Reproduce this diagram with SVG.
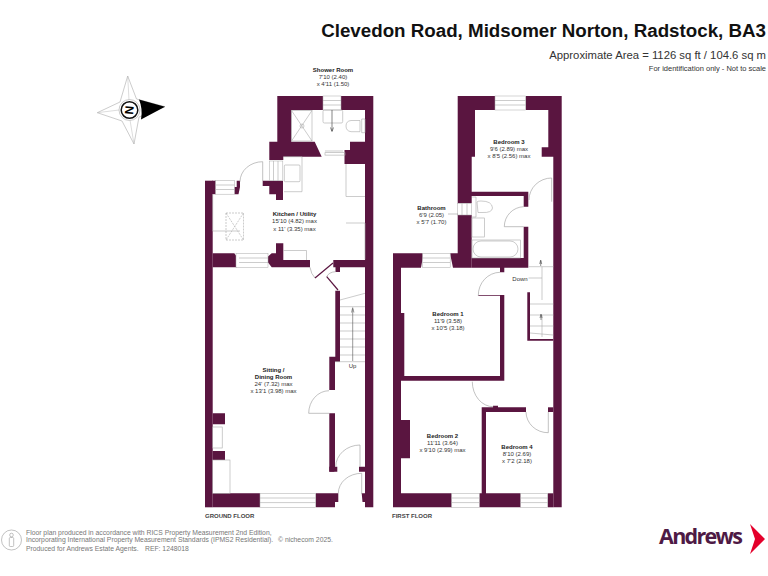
<svg xmlns="http://www.w3.org/2000/svg" width="768" height="576" viewBox="0 0 768 576">
<style>
text{font-family:"Liberation Sans",Arial,sans-serif;fill:#333}
.lbl{font-size:6px;text-anchor:middle}
.b{font-weight:bold;fill:#222}
.w{fill:#5a1540;stroke:none}
.win{fill:#fff;stroke:#aaa;stroke-width:.5}
.thin{fill:none;stroke:#aaa;stroke-width:.6}
.arc{fill:none;stroke:#999;stroke-width:.6}
.leaf{fill:none;stroke:#5a1540;stroke-width:1.2}
.foot{font-size:6.8px;fill:#777}
</style>
<rect width="768" height="576" fill="#fff"/>

<g id="title">
<text x="766" y="37" font-size="18.75" font-weight="bold" text-anchor="end" style="fill:#111">Clevedon Road, Midsomer Norton, Radstock, BA3</text>
<text x="766" y="59" font-size="11.3" text-anchor="end">Approximate Area = 1126 sq ft / 104.6 sq m</text>
<text x="766" y="71" font-size="7.5" text-anchor="end">For identification only - Not to scale</text>
</g>

<g id="compass">
<path d="M127.7 76L136.5 99L165 106.7L139 117L134 144L122 121L97.3 112.7L120 102Z" fill="#fff" stroke="#aaa" stroke-width=".6"/>
<path d="M127.7 76L129 100M134 144L130 120M97.3 112.7L119 110" fill="none" stroke="#bbb" stroke-width=".5"/>
<path d="M139 99.5L165 106.7L141 119.5Q143 109 139 99.5Z" fill="#000"/>
<circle cx="129.5" cy="110" r="10.5" fill="#fff" stroke="#aaa" stroke-width=".6"/>
<circle cx="129.5" cy="110" r="8.3" fill="#fff" stroke="#111" stroke-width="1.5"/>
<text x="129.5" y="110" font-size="12" font-weight="bold" text-anchor="middle" dominant-baseline="central" transform="rotate(-85 129.5 110)" style="fill:#000">N</text>
</g>

<g id="ground-floor">
<g id="ground-walls" class="w">
<path d="M277.3 96H323V110H291.3V141.7H314.7L321.7 156.7H283.3V160H269.3V141.7H277.3Z"/>
<path d="M341 96H373.3V507.3H365V110H341Z"/>
<path d="M350 141.7H365V164H344.5V150H350Z"/>
<rect x="205" y="180.7" width="7.7" height="326.6"/>
<rect x="212" y="180.7" width="3.7" height="13.5"/>
<path d="M234.3 194.2V187H236.7V180.7H240V187L238.5 194.2Z"/>
<path d="M262.7 180.7H283V200H276V194.3H269.3V186H262.7Z"/>
<path d="M212.7 253.3H234.3L239.3 260L237 267.3H212.7Z"/>
<path d="M267.7 256.7L271.7 253.3H276V243.3H283.3V260H310V267.3H271.7L267.7 262Z"/>
<path d="M333.3 260H365V267.3H340V272H335.5V267.3H333.3Z"/>
<path d="M335.3 290.7H340V361.7H335V390H329.3V356.7H335.3Z"/>
<path d="M329.3 413.3H335V466.7H337.3V471.7H329.3Z"/>
<rect x="329.3" y="466.7" width="5" height="5"/>
<path d="M315.7 493.3H338.3V502H335V507.3H315.7Z"/>
<path d="M212.7 413.3H225V424.3H212.7ZM212.7 451H225V460H212.7ZM212.7 493.3H260V507.3H212.7Z"/>
<path d="M359 466.7H365V471.7H359ZM361.7 493.3H365V502H362.5Z"/>
</g>
<g id="ground-fixtures">
<rect x="323" y="96" width="18" height="14" class="win"/><path class="thin" d="M323 100.5H341M323 105H341"/>
<rect x="269.3" y="161" width="13.5" height="19.7" class="win"/><path class="thin" d="M273.5 161V180.7M278 161V180.7"/>
<rect x="215.7" y="180.7" width="18.7" height="13.5" class="win"/><path class="thin" d="M215.7 185H234.4M215.7 189.5H234.4"/>
<rect x="236" y="253.3" width="32" height="14" class="win"/><path class="thin" d="M239 258H268M239 262.5H268"/>
<rect x="260" y="493.3" width="55.7" height="14" class="win"/><path class="thin" d="M260 498H315.7M260 502.6H315.7"/>
<path class="thin" d="M212.7 231H240M283.3 156.7H302V191.7H284M346 164V196.5H365M346 223H365V259.5M283.3 250.5H306.5V260M212.7 194V231"/>
<rect x="291.5" y="110.5" width="20.5" height="30.5" class="thin"/>
<path class="thin" d="M291.5 110.5L312 141M312 110.5L291.5 141"/>
<circle cx="302" cy="126" r="2" class="thin"/>
<rect x="323" y="110" width="19.7" height="13" rx="1.5" class="thin"/>
<path class="thin" d="M346 126Q346 121 351 120.5H360V131.7H351Q346 131 346 126ZM361.7 119H365V132.7H361.7Z"/>
<path d="M332 110V131M330.5 127.5L332 131.5L333.5 127.5" fill="none" stroke="#333" stroke-width=".6"/>
<rect x="325" y="152.7" width="20" height="2.4" class="thin"/>
<path class="thin" d="M325 151H343"/>
<rect x="284.3" y="165" width="15.7" height="16.7" rx="1" class="thin"/>
<path class="thin" d="M226 213H243.5V240H226ZM226 213L243.5 240M243.5 213L226 240" stroke-dasharray="2 1"/>
<rect x="212.7" y="427" width="9.5" height="21" class="thin"/>
<rect x="212.7" y="460" width="17.3" height="33.3" class="thin"/>
<path class="thin" d="M340 300L365 293.3M340 306.7H365M340 315H365M340 323H365M340 331H365M340 339H365M340 347H365M340 355H365M335 361.7H365"/>
<path d="M352.7 361V309M351.5 312.5L352.7 307.7L353.9 312.5" fill="none" stroke="#555" stroke-width=".6"/>
</g>
<g id="ground-doors">
<path class="arc" d="M262.7 161.7A22.7 20 0 0 0 240 181.7M262.7 161.7V181"/>
<path class="arc" d="M310 267.3Q311 274 315 278"/>
<path class="leaf" d="M315 278L333 263"/>
<path class="arc" d="M326.7 276.7Q329 272 335.7 271.7"/>
<path class="leaf" d="M326.7 276.7L338 290"/>
<path class="arc" d="M329 390.7A20.5 22.6 0 0 0 308.7 413.3H329.3"/>
<path class="arc" d="M360 445A24.5 22 0 0 0 335.7 466.7M360 445V467"/>
<path class="arc" d="M361.7 473.3A23.4 20 0 0 0 338.3 493.3M361.7 473.3V494"/>
</g>
</g>

<g id="first-floor">
<g id="first-walls" class="w">
<path d="M457.7 96H495V110H475V156.7H471.7V191.7H528.3V206.7H523.7V196H471.7V203.3H457.7Z"/>
<path d="M525.7 96H561.7V507.3H553.3V156.7H541.7V147.3H548.3V110H525.7Z"/>
<path d="M457.7 215H471.7V267.7H453L450 253.3H457.7Z"/>
<path d="M471.7 258H523.7V226.7H528.3V267.7H504.3V272.3H500V267.7H471.7Z"/>
<path d="M393 253.3H422.7V258L421 267.7H401V313H404.3V376H500V295.7H478.3V295H504.3V380.7H401V420H410V458.3H401V493.3H451.7V507.3H393Z"/>
<path d="M481.7 407.3H493V405.7H498V407.3H526V412H486V493.3H520.7V507.3H479.3V493.3H481.7Z"/>
<path d="M547.7 493.3H553.3V507.3H547.7Z"/>
<path d="M548 407.3H553.3V412H548Z"/>
<path d="M527.3 292.3H530V339H553.3V340.7H527.3Z"/>
</g>
<g id="first-fixtures">
<rect x="495" y="96" width="30.7" height="14" class="win"/><path class="thin" d="M495 100.5H525.7M495 105H525.7"/>
<rect x="457.7" y="203.3" width="14" height="11.7" class="win"/><path class="thin" d="M462 203.3V215M467 203.3V215"/>
<rect x="422.7" y="253.3" width="27.5" height="14.4" class="win"/><path class="thin" d="M422.7 258H450M422.7 262.5H450"/>
<rect x="451.7" y="493.3" width="27.6" height="14" class="win"/><path class="thin" d="M451.7 498H479.3M451.7 502.6H479.3"/>
<rect x="520.7" y="493.3" width="27" height="14" class="win"/><path class="thin" d="M520.7 498H547.7M520.7 502.6H547.7"/>
<path class="thin" d="M477 202Q477 201 481 201Q492 201 492.5 208Q492 213 482 212.5H478ZM472 197H476V217H472"/>
<rect x="472" y="218" width="12.5" height="19" class="thin"/>
<rect x="472" y="240" width="48.5" height="18" class="thin"/>
<rect x="473" y="241" width="45" height="16" rx="8" class="thin"/>
<path class="thin" d="M528.5 266.7H553.3M528.5 278H542M542 266.7V300M530 304H553.3M530 315H553.3M530 326H553.3M530 333L553.3 335M542 315V337"/>
<path d="M540.7 266V261M539.7 264L540.7 260L541.7 264M541 320V315M540 318L541 314L542 318" fill="none" stroke="#444" stroke-width=".6"/>
</g>
<g id="first-doors">
<path class="arc" d="M551.7 178A22.7 22 0 0 0 529 200M551.7 178V201.7"/>
<path class="arc" d="M523.7 206.7A20 20 0 0 0 504.3 226.7H523.7"/>
<path class="arc" d="M500 272.3A22 23 0 0 0 478.3 295.7"/>
<path class="arc" d="M472.3 381.7A21 25 0 0 0 493.3 406.7"/>
<path class="arc" d="M526 412A22 21 0 0 0 548.3 432.7V412"/>
</g>
</g>

<g id="labels">
<text class="lbl b" x="333" y="72">Shower Room</text>
<text class="lbl" x="333" y="79">7'10 (2.40)</text>
<text class="lbl" x="333" y="86">x 4'11 (1.50)</text>
<text class="lbl b" x="294.5" y="216">Kitchen / Utility</text>
<text class="lbl" x="294.5" y="223">15'10 (4.82) max</text>
<text class="lbl" x="294.5" y="230.5">x 11' (3.35) max</text>
<text class="lbl b" x="273.5" y="371.5">Sitting /</text>
<text class="lbl b" x="273.5" y="379">Dining Room</text>
<text class="lbl" x="273.5" y="386">24' (7.32) max</text>
<text class="lbl" x="273.5" y="393">x 13'1 (3.98) max</text>
<text class="lbl" x="352.5" y="368">Up</text>
<text x="205" y="518" font-size="6" font-weight="bold" style="fill:#444">GROUND FLOOR</text>
<text class="lbl b" x="509" y="144">Bedroom 3</text>
<text class="lbl" x="509" y="151">9'6 (2.89) max</text>
<text class="lbl" x="509" y="158">x 8'5 (2.56) max</text>
<text class="lbl b" x="431.5" y="210">Bathroom</text>
<text class="lbl" x="431.5" y="217">6'9 (2.05)</text>
<text class="lbl" x="431.5" y="224">x 5'7 (1.70)</text>
<path d="M448 214H458" stroke="#888" stroke-width=".5" fill="none"/>
<text class="lbl" x="520" y="281">Down</text>
<text class="lbl b" x="448" y="315.5">Bedroom 1</text>
<text class="lbl" x="448" y="322.5">11'9 (3.58)</text>
<text class="lbl" x="448" y="330">x 10'5 (3.18)</text>
<text class="lbl b" x="442.5" y="437.5">Bedroom 2</text>
<text class="lbl" x="442.5" y="444.5">11'11 (3.64)</text>
<text class="lbl" x="442.5" y="451.5">x 9'10 (2.99) max</text>
<text class="lbl b" x="517" y="449">Bedroom 4</text>
<text class="lbl" x="517" y="456">8'10 (2.69)</text>
<text class="lbl" x="517" y="463">x 7'2 (2.18)</text>
<text x="392" y="518" font-size="6" font-weight="bold" style="fill:#444">FIRST FLOOR</text>
</g>

<g id="footer">
<circle cx="11.5" cy="540" r="10" fill="none" stroke="#999" stroke-width=".6"/>
<circle cx="11.5" cy="535" r="1.8" fill="none" stroke="#999" stroke-width=".6"/>
<rect x="9.3" y="537.5" width="4.4" height="9" rx="1" fill="none" stroke="#999" stroke-width=".6"/>
<text class="foot" x="26" y="534.5">Floor plan produced in accordance with RICS Property Measurement 2nd Edition,</text>
<text class="foot" x="26" y="542.3">Incorporating International Property Measurement Standards (IPMS2 Residential).</text>
<text class="foot" x="278" y="542.3">© nichecom 2025.</text>
<text class="foot" x="26" y="551">Produced for Andrews Estate Agents.</text>
<text class="foot" x="145" y="551">REF: 1248018</text>
</g>

<g id="logo">
<text x="659" y="544" font-size="21.5" font-weight="bold" style="font-family:'Open Sans','Liberation Sans',sans-serif;fill:#4e1a45" textLength="84">Andrews</text>
<path d="M750 524L765 539L750 554L755 539Z" fill="#e4002b"/>
</g>
</svg>
